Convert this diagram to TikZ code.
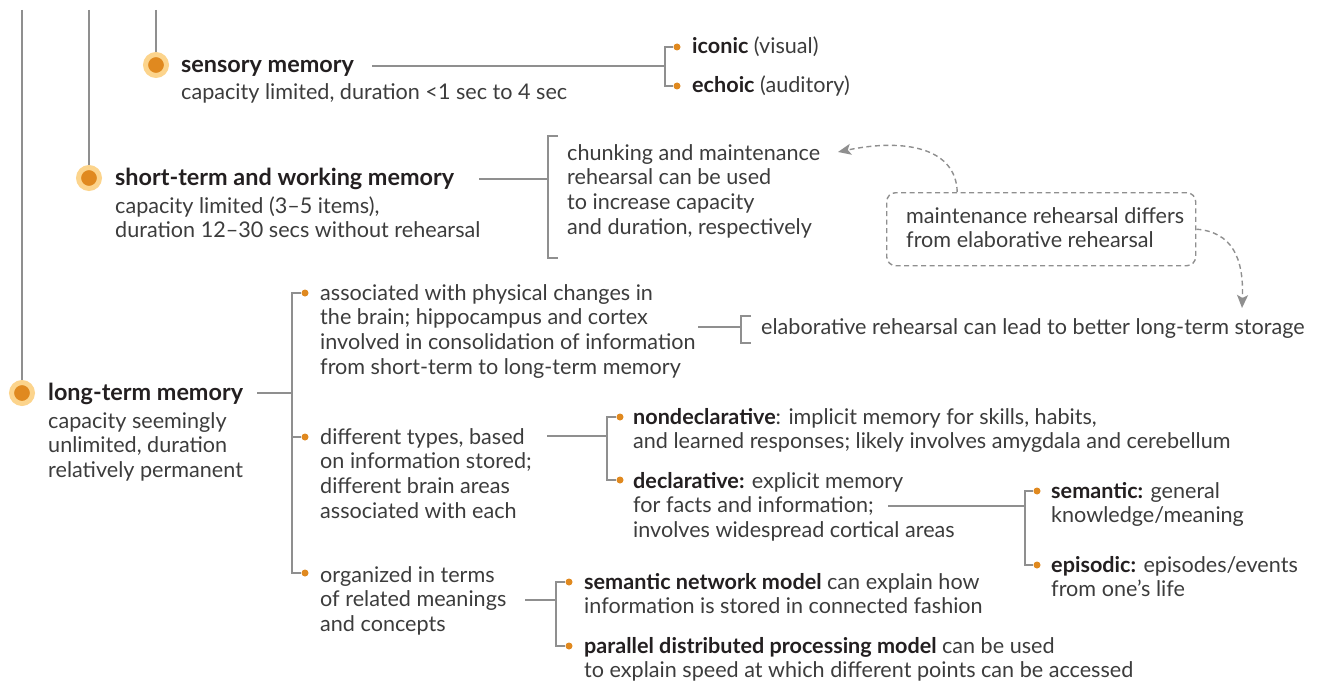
\documentclass[tikz,border=0pt]{standalone}
\usepackage{fontspec}
\setmainfont{Lato}
\usetikzlibrary{arrows.meta}
\definecolor{ln}{HTML}{8F8F8F}
\definecolor{org}{HTML}{E0891F}
\definecolor{lorg}{HTML}{FCD48C}
\definecolor{txt}{HTML}{3C3C3C}
\definecolor{hd}{HTML}{231F20}
\newcommand\fstl{\rule{0pt}{18pt}}
\tikzset{
  body/.style={font=\fontsize{21.6}{24.6}\selectfont, text=txt, inner sep=0pt, anchor=north west, align=left},
  ttl/.style={font=\fontsize{23.4}{24.6}\selectfont\bfseries, text=hd, inner sep=0pt, anchor=north west, align=left},
  bigdot/.style={circle, fill=org, draw=lorg, line width=5pt, minimum size=21pt, inner sep=0pt},
  smalldot/.style={circle, fill=org, minimum size=7pt, inner sep=0pt},
  conn/.style={draw=ln, line width=1.2pt},
  dbox/.style={draw=ln, line width=1.4pt, dash pattern=on 5pt off 3.5pt, rounded corners=9pt, minimum width=309pt, minimum height=73pt, inner sep=0pt, anchor=north west},
  darr/.style={draw=ln, line width=1.4pt, dash pattern=on 5pt off 3.5pt, -{Stealth[length=13pt,width=11pt,inset=3pt]}},
}
\begin{document}
\begin{tikzpicture}[x=1pt,y=-1pt]
\useasboundingbox (0,0) rectangle (1321,682);
% vertical stems and big dots
\node[bigdot] (d1) at (156,65) {};
\node[bigdot] (d2) at (89,178) {};
\node[bigdot] (d3) at (22,393) {};
\coordinate (t1) at (156,10);
\coordinate (t2) at (89,10);
\coordinate (t3) at (22,10);
\draw[conn] (t1) -- (d1);
\draw[conn] (t2) -- (d2);
\draw[conn] (t3) -- (d3);

% sensory memory
\node[ttl] (smt) at (181,54) {\fstl sensory memory};
\node[body] (sms) at (181,81) {\fstl capacity limited, duration <1 sec to 4 sec};
\node[smalldot] (dI) at (677,47) {};
\node[smalldot] (dE) at (677,86) {};
\node[body] (ico) at (692,35) {\fstl{\color{hd}\bfseries iconic} (visual)};
\node[body] (ech) at (692,74) {\fstl{\color{hd}\bfseries echoic} (auditory)};
\coordinate (k1) at (665,66);
\draw[conn] (dI) -| (k1) |- (dE);
\draw[conn] ([xshift=18pt]smt.east |- k1) -- (k1);

% short-term memory
\node[ttl] (stt) at (115,167) {\fstl short-term and working memory};
\node[body] (sts) at (115,195) {\fstl capacity limited (3–5 items),\\duration 12–30 secs without rehearsal};
\coordinate (k2) at (548,179);
\coordinate (k2t) at (558,136);
\coordinate (k2b) at (558,258);
\draw[conn] (k2t) -| (k2) |- (k2b);
\draw[conn] ([xshift=25pt]stt.east |- k2) -- (k2);
\node[body] (chk) at (567,142) {\fstl chunking and maintenance\\rehearsal can be used\\to increase capacity\\and duration, respectively};

% dashed box
\node[dbox] (mrb) at (886,192) {};
\node[body] (mrt) at (906,205) {\fstl maintenance rehearsal differs\\from elaborative rehearsal};
\coordinate (a1) at (838,152);
\coordinate (a2) at (1242,308);
\draw[darr] ([xshift=-84pt]mrb.north) .. controls (956,148) and (905,138) .. (a1);
\draw[darr] (mrb.east) .. controls (1232,232) and (1244,258) .. (a2);

% long-term memory
\node[ttl] (ltt) at (48,382) {\fstl long-term memory};
\node[body] (lts) at (48,410) {\fstl capacity seemingly\\unlimited, duration\\relatively permanent};
\coordinate (k4) at (292,393);
\node[smalldot] (L1) at (305,293) {};
\node[smalldot] (L2) at (305,437) {};
\node[smalldot] (L3) at (305,573) {};
\draw[conn] (L1) -| (k4) |- (L3);
\draw[conn] (L2) -| (k4);
\draw[conn] ([xshift=14pt]ltt.east |- k4) -- (k4);

\node[body] (b1) at (320,282) {\fstl associated with physical changes in\\the brain; hippocampus and cortex\\involved in consolidation of information\\from short-term to long-term memory};
\node[body] (b2) at (320,426) {\fstl different types, based\\on information stored;\\different brain areas\\associated with each};
\node[body] (b3) at (320,564) {\fstl organized in terms\\of related meanings\\and concepts};

% elaborative
\coordinate (k5) at (741,327);
\coordinate (k5t) at (751,316);
\coordinate (k5b) at (751,343);
\draw[conn] (k5t) -| (k5) |- (k5b);
\coordinate (s5) at (698,327);
\draw[conn] (s5) -- (k5);
\node[body] (el) at (761,316) {\fstl elaborative rehearsal can lead to better long-term storage};

% types
\coordinate (k6) at (607,436);
\node[smalldot] (N1) at (620,417) {};
\node[smalldot] (N2) at (620,480) {};
\draw[conn] (N1) -| (k6) |- (N2);
\coordinate (s6) at (547,436);
\draw[conn] (s6) -- (k6);
\node[body] (nd) at (633,406) {\fstl{\color{hd}\bfseries nondeclarative}: implicit memory for skills, habits,\\and learned responses; likely involves amygdala and cerebellum};
\node[body] (dc) at (633,470) {\fstl{\color{hd}\bfseries declarative:} explicit memory\\for facts and information;\\involves widespread cortical areas};

\coordinate (k7) at (1025,506);
\node[smalldot] (S1) at (1037,491) {};
\node[smalldot] (S2) at (1037,565) {};
\draw[conn] (S1) -| (k7) |- (S2);
\coordinate (s7) at (888,506);
\draw[conn] (s7) -- (k7);
\node[body] (sem) at (1051,480) {\fstl{\color{hd}\bfseries semantic:} general\\knowledge/meaning};
\node[body] (epi) at (1051,554) {\fstl{\color{hd}\bfseries episodic:} episodes/events\\from one’s life};

% organization
\coordinate (k8) at (556,600);
\node[smalldot] (P1) at (569,582) {};
\node[smalldot] (P2) at (569,646) {};
\draw[conn] (P1) -| (k8) |- (P2);
\coordinate (s8) at (525,600);
\draw[conn] (s8) -- (k8);
\node[body] (snm) at (584,571) {\fstl{\color{hd}\bfseries semantic network model} can explain how\\information is stored in connected fashion};
\node[body] (pdp) at (584,635) {\fstl{\color{hd}\bfseries parallel distributed processing model} can be used\\to explain speed at which different points can be accessed};
\end{tikzpicture}
\end{document}
